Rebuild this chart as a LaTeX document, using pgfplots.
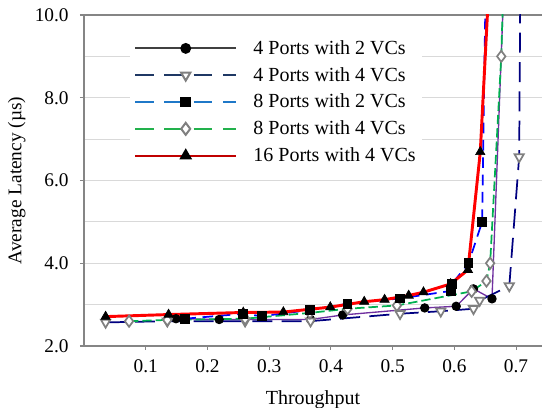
\documentclass[border=0pt]{standalone}
\usepackage{pgfplots}
\pgfplotsset{compat=1.18}
\usepackage{fontspec}
\setmainfont{Liberation Serif}

\definecolor{lgray}{HTML}{404040}
\definecolor{lnavy}{HTML}{1F3864}
\definecolor{lblue}{HTML}{1F78C8}
\definecolor{lgreen}{HTML}{22B14C}
\definecolor{lred}{HTML}{C00000}
\definecolor{pPurple}{HTML}{7030A0}
\definecolor{pNavy}{HTML}{000080}
\definecolor{pBlue}{HTML}{0000FF}
\definecolor{pGreen}{HTML}{00B050}
\definecolor{pRed}{HTML}{FF0000}
\definecolor{axgray}{HTML}{858585}
\definecolor{gridgray}{HTML}{D9D9D9}

\begin{document}
\begin{tikzpicture}
\begin{axis}[name=ax,
  scale only axis,
  width=343.5pt, height=248.25pt,
  xmin=0, xmax=0.742, ymin=2, ymax=10,
  xtick={0.1,0.2,0.3,0.4,0.5,0.6,0.7},
  ytick={2,4,6,8,10},
  minor ytick={3,5,7,9},
  ymajorgrids, yminorgrids,
  major grid style={gridgray, line width=0.75pt},
  minor grid style={gridgray, line width=0.75pt},
  separate axis lines,
  axis x line*=box, axis y line*=left,
  axis line style={axgray, line width=0.8pt, -},
  tick align=outside,
  major tick length=3pt, minor tick length=0pt,
  tick style={axgray, line width=0.8pt},
  xtick pos=bottom, ytick pos=left,
  /pgf/number format/assume math mode=true,
  xticklabel style={font=\fontsize{14.5}{16}\selectfont, yshift=-4pt, /pgf/number format/.cd, fixed, fixed zerofill, precision=1},
  yticklabel style={font=\fontsize{14.5}{16}\selectfont, xshift=-5pt, /pgf/number format/.cd, fixed, fixed zerofill, precision=1},
  xlabel={Throughput},
  ylabel={Average Latency (µs)},
  xlabel style={font=\fontsize{15}{18}\selectfont, yshift=-6pt},
  ylabel style={font=\fontsize{14.5}{18}\selectfont},
  legend cell align=left,
  legend image code/.code={\draw[mark repeat=2,mark phase=2,#1] plot coordinates {(0pt,0pt) (38pt,0pt) (76pt,0pt)};
    \path (86pt,0pt);},
  legend style={at={(0.1,0.94)}, anchor=north west, draw=none, fill=white,
    font=\fontsize{15}{18}\selectfont, row sep=4.2pt},
  mark size=3pt,
]
% legend entries (legend colours differ from plotted colours)
\addlegendimage{lgray, line width=1.5pt, mark=*, mark options={fill=black, draw=black, scale=1.1}}
\addlegendentry{4 Ports with 2 VCs}
\addlegendimage{lnavy, line width=1.5pt, dash pattern=on 14pt off 8pt, mark=triangle*, mark options={solid, rotate=180, fill=white, draw=gray, scale=1.35}}
\addlegendentry{4 Ports with 4 VCs}
\addlegendimage{lblue, line width=1.5pt, dash pattern=on 14pt off 8pt, mark=square*, mark options={solid, fill=black, draw=black, scale=1.1}}
\addlegendentry{8 Ports with 2 VCs}
\addlegendimage{lgreen, line width=1.5pt, dash pattern=on 14pt off 8pt, mark=diamond*, mark options={solid, fill=white, draw=gray, scale=1.5}}
\addlegendentry{8 Ports with 4 VCs}
\addlegendimage{lred, line width=1.5pt, mark=triangle*, mark options={fill=black, draw=black, scale=1.35}}
\addlegendentry{16 Ports with 4 VCs}

% 4 Ports with 2 VCs
\addplot[forget plot, pPurple, line width=1pt, mark=*, mark options={fill=black, draw=black}] coordinates {
 (0.149,2.66) (0.219,2.64) (0.367,2.64) (0.419,2.75) (0.552,2.92) (0.603,2.96) (0.631,3.38) (0.661,3.14) (0.681,11)};
% 4 Ports with 4 VCs
\addplot[forget plot, pNavy, line width=1.3pt, dash pattern=on 15pt off 7pt, mark=triangle*, mark size=4pt, mark options={solid, rotate=180, fill=white, draw=gray}] coordinates {
 (0.035,2.57) (0.135,2.6) (0.261,2.6) (0.367,2.6) (0.512,2.78) (0.578,2.84) (0.631,2.9) (0.641,3.1) (0.689,3.45) (0.705,6.57) (0.707,11)};
% 8 Ports with 4 VCs
\addplot[forget plot, pGreen, line width=1.3pt, dash pattern=on 7pt off 3pt, mark=diamond*, mark size=4.2pt, mark options={solid, fill=white, draw=gray}] coordinates {
 (0.073,2.6) (0.135,2.63) (0.261,2.66) (0.366,2.8) (0.427,2.9) (0.507,2.98) (0.628,3.32) (0.652,3.57) (0.658,4.0) (0.676,9.0) (0.68,11)};
% 8 Ports with 2 VCs
\addplot[forget plot, pBlue, line width=1.3pt, dash pattern=on 8pt off 5pt, mark=square*, mark options={solid, fill=black, draw=black}] coordinates {
 (0.164,2.66) (0.258,2.78) (0.288,2.72) (0.366,2.87) (0.427,3.02) (0.512,3.15) (0.594,3.33) (0.596,3.5) (0.623,4.0) (0.645,5.0) (0.651,11)};
% 16 Ports with 4 VCs
\addplot[forget plot, pRed, line width=2.2pt, mark=triangle*, mark size=4pt, mark options={fill=black, draw=black, line width=0.5pt}] coordinates {
 (0.035,2.71) (0.137,2.76) (0.258,2.81) (0.323,2.82) (0.399,2.94) (0.454,3.07) (0.487,3.12) (0.526,3.22) (0.55,3.3) (0.594,3.5) (0.622,3.84) (0.642,6.69) (0.657,11)};
\end{axis}
\pgfresetboundingbox
\path ([shift={(-63pt,-46.5pt)}]ax.south west) rectangle ([yshift=11.25pt]ax.north east);
\end{tikzpicture}
\end{document}
